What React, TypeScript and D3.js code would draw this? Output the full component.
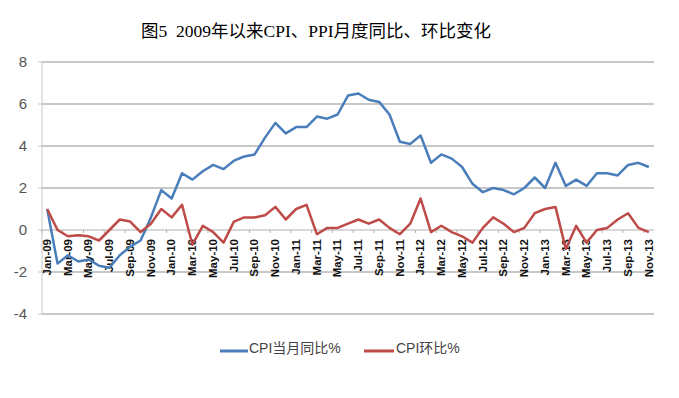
import React from "react";
import * as d3 from "d3";

const months = ["Jan","Feb","Mar","Apr","May","Jun","Jul","Aug","Sep","Oct","Nov","Dec"];
const years = ["09","10","11","12","13"];
const categories: string[] = [];
years.forEach((y) => months.forEach((m) => categories.push(`${m}-${y}`)));
categories.splice(59);

const cpiYoY = [
  1.0, -1.6, -1.2, -1.5, -1.4, -1.7, -1.8, -1.2, -0.8, -0.5, 0.6, 1.9,
  1.5, 2.7, 2.4, 2.8, 3.1, 2.9, 3.3, 3.5, 3.6, 4.4, 5.1, 4.6,
  4.9, 4.9, 5.4, 5.3, 5.5, 6.4, 6.5, 6.2, 6.1, 5.5, 4.2, 4.1,
  4.5, 3.2, 3.6, 3.4, 3.0, 2.2, 1.8, 2.0, 1.9, 1.7, 2.0, 2.5,
  2.0, 3.2, 2.1, 2.4, 2.1, 2.7, 2.7, 2.6, 3.1, 3.2, 3.0,
];
const cpiMoM = [
  1.0, 0.0, -0.3, -0.25, -0.3, -0.5, 0.0, 0.5, 0.4, -0.1, 0.3, 1.0,
  0.6, 1.2, -0.7, 0.2, -0.1, -0.6, 0.4, 0.6, 0.6, 0.7, 1.1, 0.5,
  1.0, 1.2, -0.2, 0.1, 0.1, 0.3, 0.5, 0.3, 0.5, 0.1, -0.2, 0.3,
  1.5, -0.1, 0.2, -0.1, -0.3, -0.6, 0.1, 0.6, 0.3, -0.1, 0.1, 0.8,
  1.0, 1.1, -0.9, 0.2, -0.6, 0.0, 0.1, 0.5, 0.8, 0.1, -0.1,
];
const yTicks = [-4, -2, 0, 2, 4, 6, 8];
const title = "图5  2009年以来CPI、PPI月度同比、环比变化";
const seriesNames = ["CPI当月同比%", "CPI环比%"];

export default function App() {
  const W = 679, H = 398;
  const left = 42, right = 654, top = 62, bottom = 314;
  const x = d3.scaleBand<number>().domain(d3.range(categories.length)).range([left, right]);
  const cx = (i: number) => (x(i) as number) + x.bandwidth() / 2;
  const y = d3.scaleLinear().domain([-4, 8]).range([bottom, top]);
  const line = d3.line<number>().x((_, i) => cx(i)).y((d) => y(d)).curve(d3.curveLinear);
  const blue = "#4a7ebb";
  const red = "#be4b48";
  return (
    <svg width={W} height={H} style={{ position: "absolute", left: 0, top: 0, background: "#fff" }}>
      <text x={316} y={37} textAnchor="middle" fontSize={17.5} fontFamily="'Liberation Serif','Noto Sans CJK SC',serif" fill="#000" style={{ whiteSpace: "pre" }}>{title}</text>
      {yTicks.map((t) => (
        <g key={t}>
          {t !== 0 && <line x1={left} x2={right} y1={y(t)} y2={y(t)} stroke="#c8c8c8" strokeWidth={2} />}
          <line x1={left - 4} x2={left} y1={y(t)} y2={y(t)} stroke="#c8c8c8" strokeWidth={1} />
          <text x={27} y={y(t)} dy="0.35em" textAnchor="end" fontSize={15} fontFamily="'Liberation Sans',Arial,sans-serif" fill="#555">{t}</text>
        </g>
      ))}
      <line x1={left} x2={left} y1={top} y2={bottom} stroke="#c8c8c8" strokeWidth={1} />
      <line x1={left} x2={right} y1={y(0)} y2={y(0)} stroke="#b0b0b0" strokeWidth={1} />
      {categories.map((c, i) => i % 2 === 0 ? (
        <g key={c}>
          <line x1={x(i) as number} x2={x(i) as number} y1={y(0)} y2={y(0) + 3} stroke="#b0b0b0" />
          <text transform={`translate(${cx(i)},${y(0) + 9}) rotate(-90) scale(1.15,1)`} textAnchor="end" dominantBaseline="central" fontSize={10} fontWeight="bold" fontFamily="'Liberation Sans',Arial,sans-serif" fill="#111">{c}</text>
        </g>
      ) : null)}
      <path d={line(cpiYoY) as string} fill="none" stroke={blue} strokeWidth={2.5} strokeLinejoin="round" />
      <path d={line(cpiMoM) as string} fill="none" stroke={red} strokeWidth={2.5} strokeLinejoin="round" />
      <g fontFamily="'Liberation Sans','Noto Sans CJK SC',sans-serif" fontSize={14} fill="#444">
        <line x1={220} x2={248} y1={351} y2={351} stroke={blue} strokeWidth={3} />
        <text x={249} y={348} dy="0.35em">{seriesNames[0]}</text>
        <line x1={364} x2={394} y1={351} y2={351} stroke={red} strokeWidth={3} />
        <text x={396} y={348} dy="0.35em">{seriesNames[1]}</text>
      </g>
    </svg>
  );
}
